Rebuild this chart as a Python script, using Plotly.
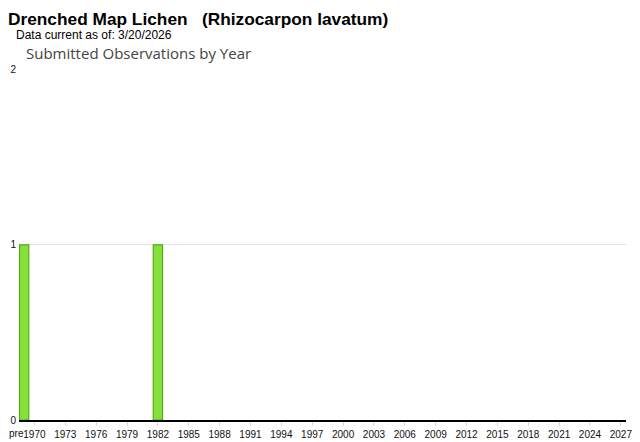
import plotly.graph_objects as go

categories = ["pre"] + [str(y) for y in range(1970, 2028)]
counts = [1] + [0] * 58
counts[categories.index("1982")] = 1
tick_labels = [str(y) for y in range(1970, 2028, 3)]
y_ticks = [0, 1, 2]

title_text = "Drenched Map Lichen   (Rhizocarpon lavatum)"
subtitle_text = "Data current as of: 3/20/2026"
chart_title = "Submitted Observations by Year"

# the page body adds an 8px offset, so margins are compensated
ML, MR, MT, MB = 11, 22, 61, 30
PW = 640 - ML - MR

fig = go.Figure()
fig.add_trace(go.Bar(
    x=categories,
    y=[c if c > 0 else None for c in counts],
    width=0.9,
    marker=dict(color="#86E03A", line=dict(color="#4FAE12", width=1.2)),
    hoverinfo="x+y",
))

fig.update_layout(
    width=640, height=442,
    margin=dict(l=ML, r=MR, t=MT, b=MB, autoexpand=False),
    paper_bgcolor="white", plot_bgcolor="white",
    showlegend=False,
    bargap=0.1,
    font=dict(family="Arial, Liberation Sans, sans-serif", color="#222"),
    xaxis=dict(
        type="category", automargin=False,
        categoryorder="array", categoryarray=categories,
        range=[-0.5, len(categories) - 0.5],
        tickmode="array", tickvals=tick_labels, ticktext=tick_labels,
        tickfont=dict(size=10, color="#111"),
        ticks="outside", ticklen=4, tickcolor="#d8d8d8", tickwidth=1,
        showline=True, linecolor="#000", linewidth=1.5,
        showgrid=False, zeroline=False,
    ),
    yaxis=dict(
        range=[0, 2.004], tickvals=y_ticks, ticktext=[str(v) for v in y_ticks],
        automargin=False,
        tickfont=dict(size=10, color="#111"),
        showgrid=True, gridcolor="#e2e2e2", gridwidth=1,
        zeroline=False, showline=False, ticks="", ticklabelstandoff=2,
    ),
    annotations=[
        dict(text="<b>" + title_text + "</b>", xref="paper", yref="paper",
             x=-13 / PW, y=1, xanchor="left", yanchor="bottom", yshift=38,
             showarrow=False, font=dict(size=17.3, color="#000",
                                        family="Arial, Liberation Sans, sans-serif")),
        dict(text=subtitle_text, xref="paper", yref="paper",
             x=-5 / PW, y=1, xanchor="left", yanchor="bottom", yshift=25,
             showarrow=False, font=dict(size=12, color="#000",
                                        family="Arial, Liberation Sans, sans-serif")),
        dict(text=chart_title, xref="paper", yref="paper",
             x=5 / PW, y=1, xanchor="left", yanchor="bottom", yshift=4,
             showarrow=False, font=dict(size=15, color="#444",
                                        family="Open Sans, sans-serif")),
        dict(text="pre", xref="x", yref="paper", x="pre", y=0,
             xanchor="center", yanchor="top", xshift=-8, yshift=-6,
             showarrow=False, font=dict(size=10, color="#111",
                                        family="Arial, Liberation Sans, sans-serif")),
    ],
)

fig.write_html("out.html")
